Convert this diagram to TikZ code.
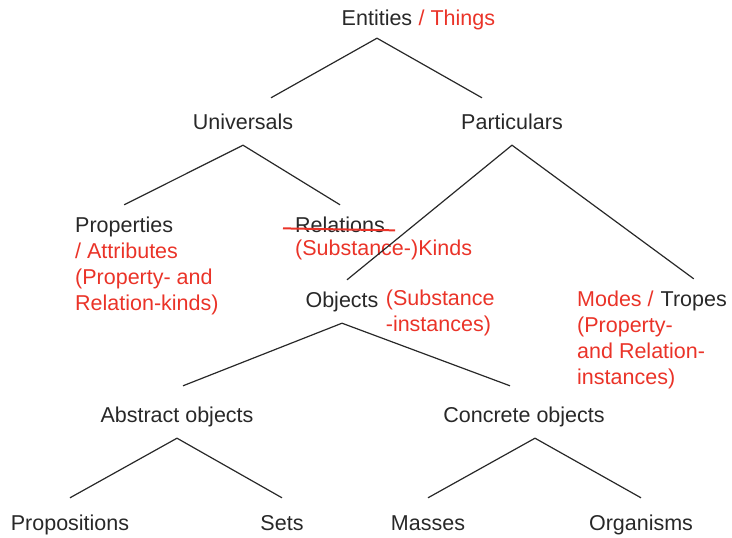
\documentclass[tikz,border=0pt]{standalone}
\usepackage{fontspec}
\setmainfont{Liberation Sans}
\usepackage{tikz}
\usetikzlibrary{positioning}
\definecolor{notered}{RGB}{234,51,40}
\definecolor{inkgray}{RGB}{40,40,40}

\begin{document}
\begin{tikzpicture}[x=1pt, y=-1pt,
        every node/.style={font=\fontsize{21.5}{26}\selectfont, inner xsep=0pt},
        term/.style={text=inkgray, text height=16pt, text depth=5pt, inner ysep=11pt},
        note/.style={text=notered, align=left, inner ysep=0pt},
        branch/.style={draw=inkgray, line width=1.2pt}]
    \useasboundingbox (0,0) rectangle (732,538);
    \node[term, anchor=base] (ents) at (377,25) {Entities};
    \node[note, base right=6pt of ents] (things) {/ Things};
    \node[term, anchor=base] (uni) at (243,129) {Universals};
    \node[term, anchor=base] (part) at (512,129) {Particulars};
    \node[term, anchor=base west] (props) at (75,232) {Properties};
    \node[note, anchor=base west] (attrs) at ([yshift=-78pt]props.base west) {/ Attributes\\(Property- and\\Relation-kinds)};
    \node[term, anchor=base west] (rel) at (295,232) {Relations};
    \node[note, anchor=base west] (kinds) at ([yshift=-23pt]rel.base west) {(Substance-)Kinds};
    \node[term, anchor=base] (objs) at (342,307) {Objects};
    \node[note, anchor=base west] (subinst) at ([xshift=7pt,yshift=-24pt]objs.base east) {(Substance\\-instances)};
    \node[term, anchor=base east] (tropes) at (727,306) {Tropes};
    \node[note, anchor=base west] (modes) at (577,384) {Modes /\\(Property-\\and Relation-\\instances)};
    \node[term, anchor=base] (abs) at (177,422) {Abstract objects};
    \node[term, anchor=base] (conc) at (524,422) {Concrete objects};
    \node[term, anchor=base] (propo) at (70,530) {Propositions};
    \node[term, anchor=base] (sets) at (282,530) {Sets};
    \node[term, anchor=base] (mass) at (428,530) {Masses};
    \node[term, anchor=base] (orgs) at (641,530) {Organisms};
    \draw[branch] ([xshift=28pt,yshift=4pt]uni.north) -- ([yshift=3pt]ents.south) -- ([xshift=-30pt,yshift=4pt]part.north);
    \draw[branch] (props.north) -- (uni.south) -- (rel.north);
    \draw[branch] ([xshift=5pt]objs.north) -- (part.south) -- (tropes.north);
    \draw[branch] ([xshift=6pt,yshift=9pt]abs.north) -- (objs.south) -- ([xshift=-14pt,yshift=9pt]conc.north);
    \draw[branch] ([yshift=5pt]propo.north) -- (abs.south) -- ([yshift=5pt]sets.north);
    \draw[branch] ([yshift=5pt]mass.north) -- ([xshift=11pt]conc.south) -- ([yshift=5pt]orgs.north);
    \draw[notered, line width=2pt] ([xshift=-12pt,yshift=1pt]rel.mid west) -- ([xshift=10pt,yshift=-1pt]rel.mid east);
\end{tikzpicture}
\end{document}
